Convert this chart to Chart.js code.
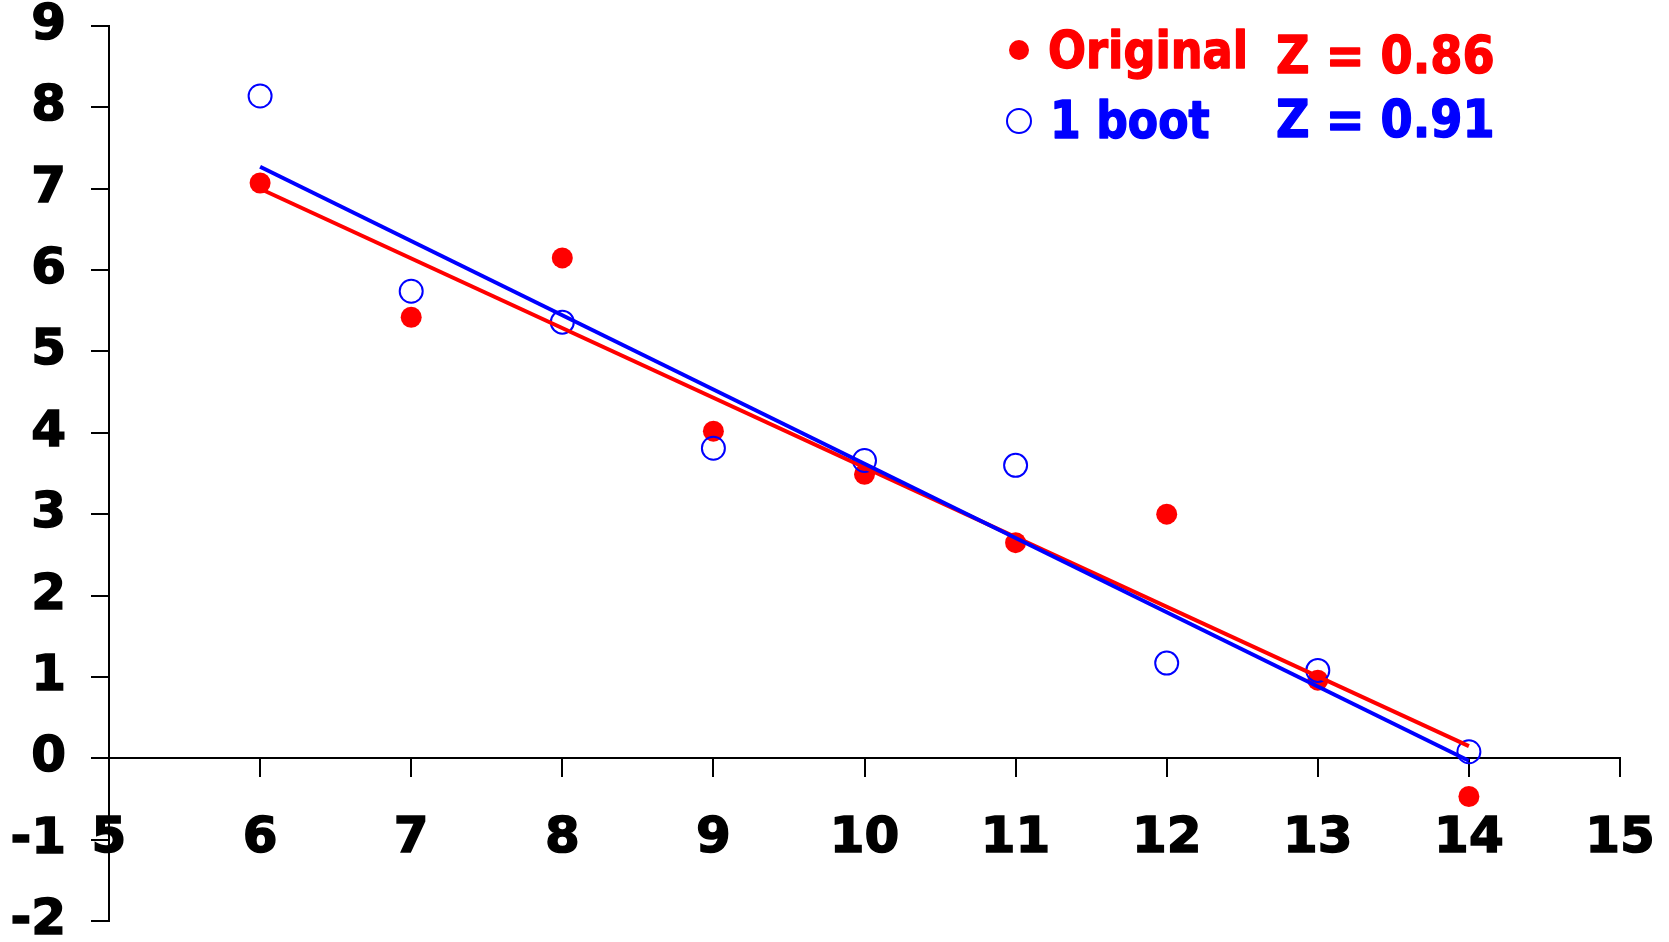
<!DOCTYPE html>
<html>
<head>
<meta charset="utf-8">
<style>
  html, body { margin: 0; padding: 0; background: #ffffff; }
  #wrap { position: relative; width: 1669px; height: 942px; }
  canvas { display: block; }
</style>
<script src="https://cdn.jsdelivr.net/npm/chart.js@4.4.1/dist/chart.umd.min.js"></script>
</head>
<body>
<div id="wrap"><canvas id="c" width="1669" height="942"></canvas></div>
<script>
// ---- data ----
const xValues = [6, 7, 8, 9, 10, 11, 12, 13, 14];
const originalY = [7.07, 5.42, 6.15, 4.02, 3.49, 2.65, 3.00, 0.96, -0.47];
const bootY = [8.14, 5.74, 5.36, 3.81, 3.66, 3.60, 1.17, 1.08, 0.08];
const fitX = [6, 14];
const originalFitY = [7.00, 0.15];
const bootFitY = [7.27, -0.03];
const xRange = [5, 15];
const yRange = [-2, 9];
const legendLabels = ['Original', '1 boot'];
const zLabels = ['Z = 0.86', 'Z = 0.91'];

const RED = '#ff0000';
const BLUE = '#0000ff';
const FONT = '"DejaVu Sans", Verdana, sans-serif';

function toPoints(xs, ys) { return xs.map((x, i) => ({ x: x, y: ys[i] })); }

const legendPlugin = {
  id: 'customLegend',
  afterDraw(chart) {
    const ctx = chart.ctx;
    ctx.save();
    // markers
    ctx.fillStyle = RED;
    ctx.beginPath(); ctx.arc(1019, 50, 10, 0, Math.PI * 2); ctx.fill();
    ctx.strokeStyle = BLUE; ctx.lineWidth = 2;
    ctx.beginPath(); ctx.arc(1019, 121, 12, 0, Math.PI * 2); ctx.stroke();
    ctx.font = 'bold 52px ' + FONT;
    ctx.textBaseline = 'alphabetic';
    ctx.textAlign = 'left';
    ctx.lineJoin = 'round';
    const drawScaled = (text, x, y, color, sx) => {
      ctx.save();
      ctx.translate(x, y);
      ctx.scale(sx, 1);
      ctx.fillStyle = color;
      ctx.strokeStyle = color;
      ctx.lineWidth = 1.5;
      ctx.fillText(text, 0, 0);
      ctx.strokeText(text, 0, 0);
      ctx.restore();
    };
    drawScaled(legendLabels[0], 1048, 68, RED, 0.86);
    drawScaled(zLabels[0], 1276, 73, RED, 0.89);
    drawScaled(legendLabels[1], 1050, 138, BLUE, 0.85);
    drawScaled(zLabels[1], 1276, 137, BLUE, 0.89);
    ctx.restore();
  }
};

const axisGrid = {
  drawOnChartArea: false,
  drawTicks: true,
  tickLength: 18,
  color: '#000000',
  lineWidth: 2
};

function resetPadding(s) {
  s.paddingTop = 0; s.paddingBottom = 0; s.paddingLeft = 0; s.paddingRight = 0;
}

new Chart(document.getElementById('c'), {
  type: 'scatter',
  data: {
    datasets: [
      {
        label: legendLabels[0],
        data: toPoints(xValues, originalY),
        pointStyle: 'circle',
        pointRadius: 10.5,
        pointBackgroundColor: RED,
        pointBorderColor: RED,
        pointBorderWidth: 0,
        showLine: false,
        order: 4
      },
      {
        label: legendLabels[1],
        data: toPoints(xValues, bootY),
        pointStyle: 'circle',
        pointRadius: 11.5,
        pointBackgroundColor: 'rgba(0,0,0,0)',
        pointBorderColor: BLUE,
        pointBorderWidth: 2,
        showLine: false,
        order: 3
      },
      {
        label: 'fit original',
        data: toPoints(fitX, originalFitY),
        showLine: true,
        borderColor: RED,
        borderWidth: 4,
        pointRadius: 0,
        order: 2
      },
      {
        label: 'fit boot',
        data: toPoints(fitX, bootFitY),
        showLine: true,
        borderColor: BLUE,
        borderWidth: 4,
        pointRadius: 0,
        order: 1
      }
    ]
  },
  options: {
    responsive: false,
    animation: false,
    layout: { padding: { left: 0, top: 26, right: 49, bottom: 21 } },
    plugins: { legend: { display: false }, tooltip: { enabled: false } },
    scales: {
      x: {
        type: 'linear',
        min: xRange[0],
        max: xRange[1],
        position: { y: 0 },
        afterFit: (s) => { s.height = 0; resetPadding(s); },
        ticks: {
          stepSize: 1,
          color: '#000000',
          padding: 33,
          textStrokeColor: '#000000',
          textStrokeWidth: 1.5,
          font: { family: FONT, size: 50, weight: 'bold', lineHeight: 1.2 }
        },
        grid: axisGrid,
        border: { display: true, color: '#000000', width: 2 }
      },
      y: {
        type: 'linear',
        min: yRange[0],
        max: yRange[1],
        position: 'left',
        afterFit: (s) => { s.width = 109; resetPadding(s); },
        ticks: {
          stepSize: 1,
          color: '#000000',
          padding: 25,
          textStrokeColor: '#000000',
          textStrokeWidth: 1.5,
          font: { family: FONT, size: 50, weight: 'bold', lineHeight: 0.8 }
        },
        grid: axisGrid,
        border: { display: true, color: '#000000', width: 2 }
      }
    }
  },
  plugins: [legendPlugin]
});
</script>
</body>
</html>
